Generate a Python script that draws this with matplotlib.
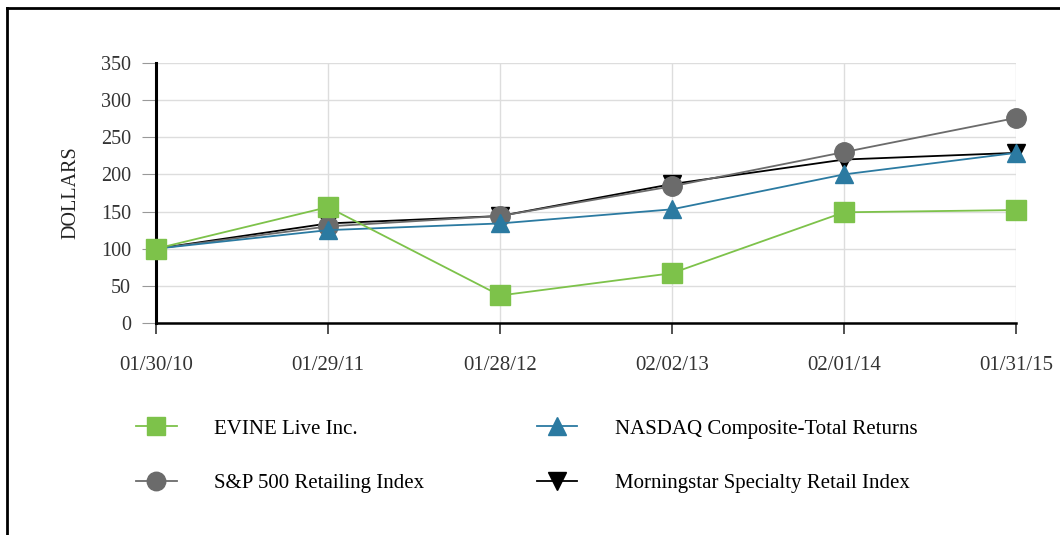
import matplotlib.pyplot as plt
from matplotlib.lines import Line2D

dates = ["01/30/10", "01/29/11", "01/28/12", "02/02/13", "02/01/14", "01/31/15"]
evine = [100, 156, 37, 67, 149, 152]
nasdaq = [100, 125, 134, 153, 200, 229]
sp_retail = [100, 130, 144, 184, 230, 276]
morningstar = [100, 134, 144, 187, 220, 229]

plt.rcParams['font.family'] = ['Liberation Serif', 'DejaVu Serif']

fig = plt.figure(figsize=(10.6, 5.35), dpi=100)
ax = fig.add_axes([0.1472, 0.3963, 0.8113, 0.486])

x = range(len(dates))
l4, = ax.plot(x, morningstar, color="black", lw=1.3, marker="v", ms=13, zorder=3,
              clip_on=False, label="Morningstar Specialty Retail Index")
l3, = ax.plot(x, sp_retail, color="#6b6b6b", lw=1.3, marker="o", ms=14, zorder=4,
              clip_on=False, label="S&P 500 Retailing Index")
l2, = ax.plot(x, nasdaq, color="#2b7aa1", lw=1.3, marker="^", ms=13, zorder=5,
              clip_on=False, label="NASDAQ Composite-Total Returns")
l1, = ax.plot(x, evine, color="#7dc24a", lw=1.3, marker="s", ms=14, zorder=6,
              clip_on=False, label="EVINE Live Inc.")

ax.set_xlim(0, len(dates) - 1)
ax.set_ylim(0, 350)
ax.set_yticks(range(0, 351, 50))
ax.set_xticks(list(x))
ax.set_xticklabels(dates)
ax.grid(True, color="#dddddd", lw=1)
ax.set_axisbelow(True)

for s in ["top", "right"]:
    ax.spines[s].set_visible(False)
ax.spines["left"].set_linewidth(2.2)
ax.spines["bottom"].set_linewidth(1.8)
ax.tick_params(axis="y", length=10, color="#999999", labelsize=14.5, labelcolor="#333333", pad=8)
ax.tick_params(axis="x", length=8, width=1.2, color="#333333", labelsize=15, labelcolor="#333333", pad=16)
ax.set_ylabel("DOLLARS", fontsize=14.5, color="#222222", labelpad=15)

fig.legend(handles=[l1, l3, l2, l4], ncol=2, frameon=False, fontsize=15,
           loc="upper left", bbox_to_anchor=(0.1105, 0.252),
           handlelength=1.95, handletextpad=1.8, columnspacing=5.4,
           labelspacing=1.68, markerscale=0.95)

# outer frame (top and left only)
fig.add_artist(Line2D([0.0066, 1.0], [0.985, 0.985], color="black", lw=2, transform=fig.transFigure))
fig.add_artist(Line2D([0.0066, 0.0066], [0.0, 0.985], color="black", lw=2, transform=fig.transFigure))

fig.savefig("out.png", dpi=100)
